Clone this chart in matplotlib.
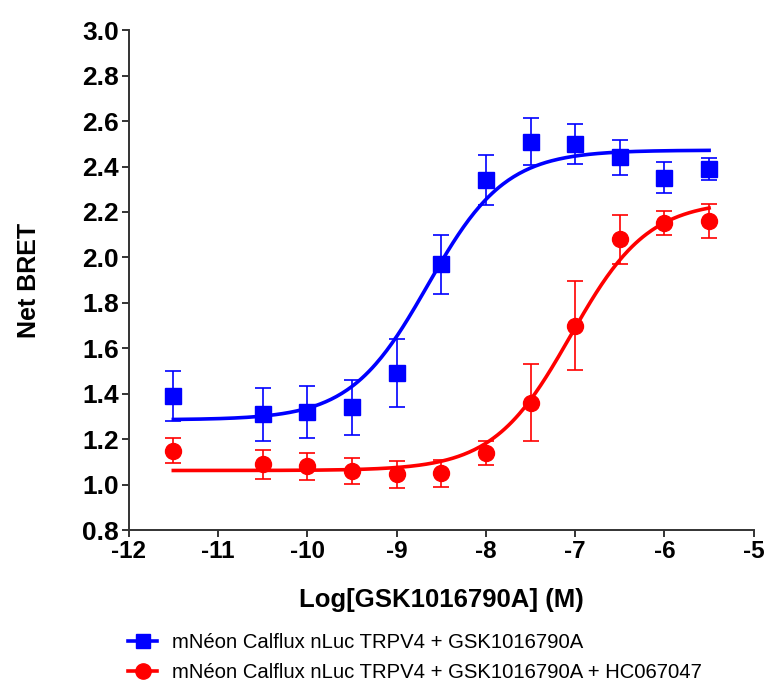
import matplotlib
matplotlib.use("Agg")
import matplotlib.pyplot as plt
from matplotlib.lines import Line2D
import numpy as np

plt.rcParams['font.family'] = ['Liberation Sans', 'DejaVu Sans']
plt.rcParams['axes.unicode_minus'] = False

# log concentrations
log_conc = [-11.5, -10.5, -10, -9.5, -9, -8.5, -8, -7.5, -7, -6.5, -6, -5.5]

# GSK1016790A alone (blue)
blue_mean = [1.39, 1.31, 1.32, 1.34, 1.49, 1.97, 2.34, 2.51, 2.50, 2.44, 2.35, 2.39]
blue_err = [0.11, 0.117, 0.115, 0.12, 0.15, 0.13, 0.11, 0.105, 0.087, 0.076, 0.068, 0.048]

# GSK1016790A + HC067047 (red)
red_mean = [1.15, 1.09, 1.08, 1.06, 1.045, 1.05, 1.14, 1.36, 1.70, 2.08, 2.15, 2.16]
red_err = [0.054, 0.064, 0.06, 0.059, 0.058, 0.059, 0.053, 0.17, 0.196, 0.107, 0.053, 0.075]

# fitted dose-response parameters: bottom, top, logEC50, hill
blue_fit = (1.285, 2.472, -8.65, 1.0)
red_fit = (1.062, 2.25, -7.05, 1.0)

labels = ["mNéon Calflux nLuc TRPV4 + GSK1016790A",
          "mNéon Calflux nLuc TRPV4 + GSK1016790A + HC067047"]


def dose_response(x, bottom, top, logec, hill):
    return bottom + (top - bottom) / (1 + 10 ** ((logec - x) * hill))


fig = plt.figure(figsize=(7.66, 6.87), dpi=100)
ax = fig.add_axes([0.168, 0.2285, 0.816, 0.7275])

xs = np.linspace(log_conc[0], log_conc[-1], 300)
for mean, err, fit, col, mk in [(blue_mean, blue_err, blue_fit, '#0000ff', 's'),
                                (red_mean, red_err, red_fit, '#ff0000', 'o')]:
    ax.plot(xs, dose_response(xs, *fit), color=col, lw=2.6, zorder=2)
    ax.errorbar(log_conc, mean, yerr=err, fmt='none', ecolor=col, elinewidth=1.2,
                capsize=5.5, capthick=1.2, zorder=3)
    ax.plot(log_conc, mean, linestyle='none', marker=mk, color=col,
            markersize=11 if mk == 's' else 11.5, zorder=4)

ax.set_xlim(-12, -5)
ax.set_ylim(0.8, 3.0)
ax.set_xticks(range(-12, -4))
ax.set_yticks(np.arange(0.8, 3.01, 0.2))
ax.set_yticklabels([f"{v:.1f}" for v in np.arange(0.8, 3.01, 0.2)])

for s in ['top', 'right']:
    ax.spines[s].set_visible(False)
for s in ['left', 'bottom']:
    ax.spines[s].set_linewidth(1.4)
    ax.spines[s].set_color('#333333')
ax.tick_params(direction='out', length=5, width=1.4, color='#333333', labelsize=19, pad=2)
ax.tick_params(axis='x', labelsize=17.5)
for lbl in ax.get_xticklabels() + ax.get_yticklabels():
    lbl.set_fontweight('bold')

ax.set_xlabel("Log[GSK1016790A] (M)", fontsize=18.5, fontweight='bold', labelpad=18)
ax.set_ylabel("Net BRET", fontsize=18, fontweight='bold')
ax.yaxis.set_label_coords(-0.14, 0.5)

handles = [Line2D([], [], color='#0000ff', marker='s', markersize=10, lw=2.6),
           Line2D([], [], color='#ff0000', marker='o', markersize=11, lw=2.6)]
fig.legend(handles, labels, loc='lower left', bbox_to_anchor=(0.146, -0.016),
           frameon=False, fontsize=14.6, handlelength=1.45, labelspacing=0.52,
           handletextpad=0.7, borderpad=0.3)

fig.savefig("out.png", dpi=100)
